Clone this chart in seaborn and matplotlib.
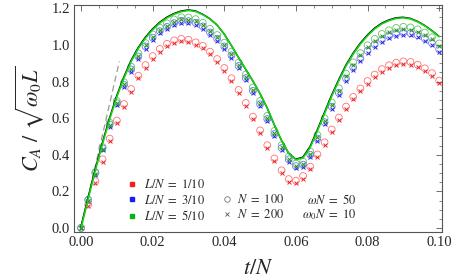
import matplotlib

matplotlib.use("Agg")
import matplotlib.pyplot as plt
import matplotlib.transforms as mtransforms
from matplotlib.lines import Line2D
from matplotlib.ticker import AutoMinorLocator, FormatStrFormatter, MultipleLocator
import pandas as pd
import seaborn as sns


# sample times t/N
T_OVER_N = [
    0.000, 0.002, 0.004, 0.006, 0.008, 0.010, 0.012, 0.014, 0.016, 0.018,
    0.020, 0.022, 0.024, 0.026, 0.028, 0.030, 0.032, 0.034, 0.036, 0.038,
    0.040, 0.042, 0.044, 0.046, 0.048, 0.050, 0.052, 0.054, 0.056, 0.058,
    0.060, 0.062, 0.064, 0.066, 0.068, 0.070, 0.072, 0.074, 0.076, 0.078,
    0.080, 0.082, 0.084, 0.086, 0.088, 0.090, 0.092, 0.094, 0.096, 0.098,
    0.100,
]

# limiting curve (black) with the green curve on top of it
CURVE = [
    0.000, 0.160, 0.315, 0.460, 0.595, 0.717, 0.820, 0.910, 0.981, 1.038,
    1.083, 1.120, 1.148, 1.168, 1.182, 1.188, 1.183, 1.165, 1.141, 1.107,
    1.058, 0.996, 0.930, 0.866, 0.802, 0.733, 0.655, 0.562, 0.478, 0.407,
    0.373, 0.383, 0.440, 0.530, 0.625, 0.720, 0.805, 0.885, 0.950, 1.005,
    1.050, 1.088, 1.115, 1.133, 1.145, 1.148, 1.142, 1.126, 1.104, 1.076,
    1.045,
]

# short-time slope (dashed)
DASH_T = [0.0, 0.0107]
DASH_C = [0.0, 0.91]

# L/N = 1/10
RED_N100 = [
    0.000, 0.128, 0.255, 0.375, 0.488, 0.587, 0.677, 0.759, 0.832, 0.890,
    0.939, 0.978, 1.006, 1.025, 1.033, 1.028, 1.014, 0.995, 0.963, 0.923,
    0.874, 0.818, 0.754, 0.683, 0.608, 0.533, 0.452, 0.380, 0.315, 0.267,
    0.258, 0.284, 0.335, 0.402, 0.468, 0.538, 0.603, 0.663, 0.716, 0.762,
    0.803, 0.838, 0.868, 0.889, 0.903, 0.910, 0.907, 0.892, 0.872, 0.846,
    0.805,
]
RED_N200 = [
    0.000, 0.122, 0.245, 0.362, 0.474, 0.573, 0.663, 0.745, 0.818, 0.876,
    0.925, 0.964, 0.992, 1.011, 1.019, 1.014, 1.000, 0.981, 0.949, 0.909,
    0.860, 0.804, 0.740, 0.669, 0.594, 0.519, 0.438, 0.366, 0.301, 0.253,
    0.244, 0.270, 0.321, 0.388, 0.454, 0.524, 0.589, 0.649, 0.702, 0.748,
    0.789, 0.824, 0.854, 0.875, 0.889, 0.896, 0.893, 0.878, 0.858, 0.832,
    0.791,
]

# L/N = 3/10
BLUE_N100 = [
    0.000, 0.152, 0.300, 0.435, 0.565, 0.682, 0.782, 0.866, 0.937, 0.992,
    1.040, 1.075, 1.099, 1.119, 1.131, 1.130, 1.121, 1.101, 1.068, 1.034,
    0.992, 0.943, 0.885, 0.819, 0.749, 0.676, 0.595, 0.513, 0.437, 0.375,
    0.338, 0.346, 0.400, 0.488, 0.578, 0.663, 0.738, 0.816, 0.877, 0.926,
    0.968, 1.003, 1.029, 1.049, 1.062, 1.067, 1.064, 1.053, 1.035, 1.010,
    0.976,
]
BLUE_N200 = [
    0.000, 0.145, 0.290, 0.424, 0.553, 0.670, 0.770, 0.854, 0.925, 0.980,
    1.028, 1.063, 1.087, 1.107, 1.119, 1.118, 1.109, 1.089, 1.056, 1.022,
    0.980, 0.931, 0.873, 0.807, 0.737, 0.664, 0.583, 0.501, 0.425, 0.363,
    0.326, 0.334, 0.388, 0.476, 0.566, 0.651, 0.726, 0.804, 0.865, 0.914,
    0.956, 0.991, 1.017, 1.037, 1.050, 1.055, 1.052, 1.041, 1.023, 0.998,
    0.964,
]

# L/N = 5/10
GREEN_N100 = [
    0.000, 0.155, 0.305, 0.442, 0.575, 0.694, 0.796, 0.881, 0.954, 1.010,
    1.058, 1.094, 1.118, 1.139, 1.151, 1.150, 1.141, 1.121, 1.088, 1.054,
    1.012, 0.963, 0.904, 0.838, 0.768, 0.694, 0.613, 0.530, 0.452, 0.390,
    0.352, 0.362, 0.418, 0.508, 0.599, 0.686, 0.763, 0.843, 0.905, 0.955,
    0.998, 1.033, 1.060, 1.080, 1.093, 1.099, 1.096, 1.085, 1.067, 1.042,
    1.008,
]
GREEN_N200 = [
    0.000, 0.148, 0.295, 0.431, 0.563, 0.682, 0.784, 0.869, 0.942, 0.998,
    1.046, 1.082, 1.106, 1.127, 1.139, 1.138, 1.129, 1.109, 1.076, 1.042,
    1.000, 0.951, 0.892, 0.826, 0.756, 0.682, 0.601, 0.518, 0.440, 0.378,
    0.340, 0.350, 0.406, 0.496, 0.587, 0.674, 0.751, 0.831, 0.893, 0.943,
    0.986, 1.021, 1.048, 1.068, 1.081, 1.087, 1.084, 1.073, 1.055, 1.030,
    0.996,
]

RATIO_LABELS = ["1/10", "3/10", "5/10"]
N_LABELS = ["100", "200"]


def main() -> None:
    sns.set_theme(style="white")
    plt.rcParams["font.family"] = ["Liberation Serif", "DejaVu Serif"]
    plt.rcParams["mathtext.fontset"] = "stix"

    series = [
        (RED_N100, RED_N200, "#ff7070", "#e82828", "#ff1a1a"),
        (BLUE_N100, BLUE_N200, "#7070ff", "#2828e0", "#1a1aff"),
        (GREEN_N100, GREEN_N200, "#66c266", "#239323", "#10b010"),
    ]

    fig, ax = plt.subplots(figsize=(4.59, 2.79), dpi=100)
    fig.subplots_adjust(left=0.161, right=0.963, bottom=0.1685, top=0.982)

    for circ, cross, c_col, x_col, _ in series:
        sns.scatterplot(
            x=T_OVER_N, y=circ, ax=ax, marker="o", s=24, color=c_col,
            facecolors="none", edgecolor=c_col, linewidth=0.6, legend=False, zorder=3,
        )
        sns.scatterplot(
            x=T_OVER_N, y=cross, ax=ax, marker="x", s=8, color=x_col,
            linewidth=0.7, legend=False, zorder=3,
        )

    curve_df = pd.DataFrame({"t": T_OVER_N, "c": CURVE})
    lifted = mtransforms.offset_copy(ax.transData, fig=fig, x=-0.25, y=0.45, units="points")
    sns.lineplot(data=curve_df, x="t", y="c", ax=ax, color="black", lw=1.0, zorder=4,
                 transform=lifted)
    sns.lineplot(data=curve_df, x="t", y="c", ax=ax, color="#14d214", lw=1.2, zorder=5)
    sns.lineplot(x=DASH_T, y=DASH_C, ax=ax, color="#9a9a9a", lw=0.9, zorder=2,
                 linestyle=(0, (5, 3)))

    ax.set_xlim(-0.002, 0.1008)
    ax.set_ylim(-0.022, 1.218)
    ax.xaxis.set_major_locator(MultipleLocator(0.02))
    ax.yaxis.set_major_locator(MultipleLocator(0.2))
    ax.xaxis.set_minor_locator(AutoMinorLocator(4))
    ax.yaxis.set_minor_locator(AutoMinorLocator(4))
    ax.xaxis.set_major_formatter(FormatStrFormatter("%.2f"))
    ax.yaxis.set_major_formatter(FormatStrFormatter("%.1f"))
    ax.tick_params(which="both", direction="in", top=True, right=True,
                   color="#555555", labelsize=10.5, pad=3)
    ax.tick_params(which="major", length=4, width=0.6)
    ax.tick_params(which="minor", length=2, width=0.5)
    for spine in ax.spines.values():
        spine.set_color("#555555")
        spine.set_linewidth(0.8)

    ax.set_xlabel(r"$t/N$", fontsize=16, labelpad=8)
    ax.set_ylabel(r"$C_A\ /\ \sqrt{\omega_0 L}$", fontsize=16, labelpad=4)

    ratio_handles = [
        Line2D([], [], marker="s", linestyle="", color=col, markersize=2.8)
        for *_, col in series
    ]
    leg1 = ax.legend(
        ratio_handles, [rf"$L/N\ =\ {r}$" for r in RATIO_LABELS],
        loc="upper left", bbox_to_anchor=(129 / 459, 1 - 178 / 279),
        bbox_transform=fig.transFigure, frameon=False, fontsize=9,
        handlelength=0.45, handletextpad=0.75, labelspacing=0.2,
        borderpad=0, borderaxespad=0,
    )
    ax.add_artist(leg1)

    n_handles = [
        Line2D([], [], marker="o", linestyle="", markerfacecolor="none",
               markeredgecolor="#777777", markersize=4, markeredgewidth=0.6),
        Line2D([], [], marker="x", linestyle="", color="#555555",
               markersize=2.5, markeredgewidth=0.6),
    ]
    ax.legend(
        n_handles, [rf"$N\ =\ {n}$" for n in N_LABELS],
        loc="upper left", bbox_to_anchor=(224 / 459, 1 - 193 / 279),
        bbox_transform=fig.transFigure, frameon=False, fontsize=9,
        handlelength=0.45, handletextpad=0.6, labelspacing=0.2,
        borderpad=0, borderaxespad=0,
    )

    fig.text(356 / 459, 1 - 200 / 279, r"$\omega N\ =\ 50$", ha="right", va="center", fontsize=9)
    fig.text(356 / 459, 1 - 214.5 / 279, r"$\omega_0 N\ =\ 10$", ha="right", va="center", fontsize=9)

    fig.savefig("out.png", dpi=100)
    plt.close(fig)


if __name__ == "__main__":
    main()
